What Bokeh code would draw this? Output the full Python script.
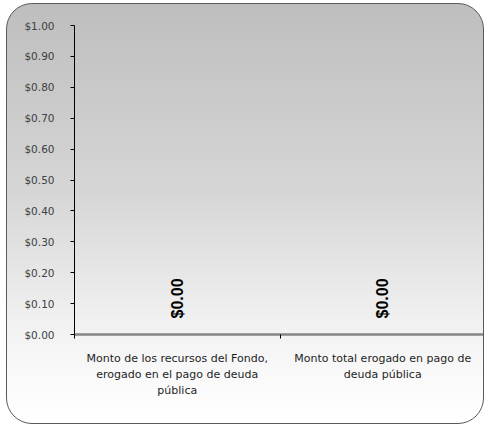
from math import pi
from bokeh.plotting import figure
from bokeh.models import ColumnDataSource, Range1d, FixedTicker, NumeralTickFormatter
from bokeh.core.properties import value
from bokeh.embed import file_html
from bokeh.resources import INLINE

# ---- data ----
categories = [
    "Monto de los recursos del Fondo,\nerogado en el pago de deuda\npública",
    "Monto total erogado en pago de\ndeuda pública",
]
amounts = [0.0, 0.0]
y_ticks = [0.0, 0.1, 0.2, 0.3, 0.4, 0.5, 0.6, 0.7, 0.8, 0.9, 1.0]
y_max = 1.0

FONT = "DejaVu Sans"

xs = [i + 0.5 for i in range(len(categories))]
labels = ["${:,.2f}".format(v) for v in amounts]
src = ColumnDataSource(dict(x=xs, top=amounts, label=labels))

p = figure(
    width=478, height=421,
    x_range=Range1d(0, len(categories)), y_range=Range1d(0, y_max),
    output_backend="svg", toolbar_location=None,
    min_border_left=67, min_border_top=21, min_border_right=0, min_border_bottom=91,
)
p.styles = {
    "background": "linear-gradient(to bottom, #bebebe 0%, #d6d6d6 45%, #f1f1f1 76%, #fafafa 90%, #ffffff 100%)",
    "border": "1px solid #5a5a5a",
    "border-radius": "26px",
    "box-sizing": "border-box",
    "margin-left": "6px",
    "margin-top": "3px",
}
p.border_fill_color = None
p.background_fill_color = None
p.outline_line_color = None
p.xgrid.visible = False
p.ygrid.visible = False

# bars (zero height) and value labels
p.vbar(x="x", top="top", width=0.6, bottom=0, source=src, fill_color="#4f81bd", line_color=None)
p.text(x="x", y="top", text="label", source=src, angle=pi / 2,
       text_align="left", text_baseline="middle", y_offset=-16,
       text_font=value("Liberation Sans"), text_font_style="bold", text_font_size="16px",
       text_color="black")

# y axis
ya = p.yaxis[0]
ya.ticker = FixedTicker(ticks=y_ticks, minor_ticks=[])
ya.formatter = NumeralTickFormatter(format="$0.00")
ya.axis_line_color = "black"
ya.axis_line_width = 1
ya.major_tick_in = 0
ya.major_tick_out = 4
ya.major_tick_line_color = "black"
ya.minor_tick_line_color = None
ya.major_label_standoff = 16
ya.major_label_text_font = FONT
ya.major_label_text_font_size = "10.5px"
ya.major_label_text_color = "#404040"

# x axis
xa = p.xaxis[0]
xa.ticker = FixedTicker(ticks=xs, minor_ticks=list(range(len(categories) + 1)))
xa.major_label_overrides = {x: c for x, c in zip(xs, categories)}
xa.axis_line_color = "#868686"
xa.axis_line_width = 2.5
xa.major_tick_line_color = None
xa.major_tick_in = 0
xa.major_tick_out = 0
xa.minor_tick_in = 0
xa.minor_tick_out = 4
xa.minor_tick_line_color = "black"
xa.major_label_standoff = 13
xa.major_label_text_font = FONT
xa.major_label_text_font_size = "11px"
xa.major_label_text_color = "#1e1e1e"
xa.major_label_text_align = "center"
xa.major_label_text_line_height = 1.25

open("out.html", "w").write(file_html(p, INLINE))
